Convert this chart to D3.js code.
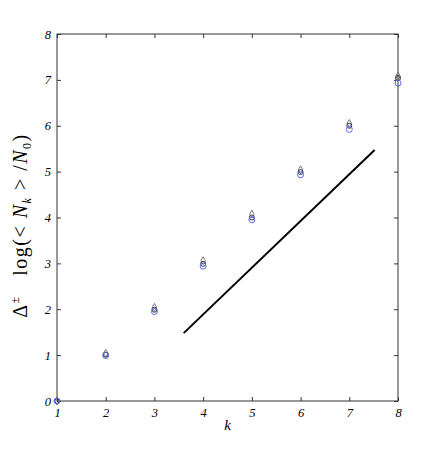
<!DOCTYPE html>
<html>
<head>
<meta charset="utf-8">
<script src="https://cdn.jsdelivr.net/npm/d3@7"></script>
<style>
  body { margin: 0; background: #fff; }
  svg text { font-family: "Liberation Serif", "DejaVu Serif", serif; }
</style>
</head>
<body>
<div id="chart"></div>
<script>
const kValues = [1, 2, 3, 4, 5, 6, 7, 8];
// light blue circles
const circleLight = [0, 0.99, 1.95, 2.94, 3.95, 4.93, 5.92, 6.93];
// dark blue circles
const circleDark = [0, 1.01, 1.99, 2.99, 4.0, 4.99, 6.0, 7.04];
// grey diamonds
const diamondVals = [0, 1.04, 2.04, 3.06, 4.07, 5.04, 6.05, 7.08];
// reference line
const lineX = [3.6, 7.52];
const lineY = [1.48, 5.47];
const xTicks = [1, 2, 3, 4, 5, 6, 7, 8];
const yTicks = [0, 1, 2, 3, 4, 5, 6, 7, 8];

const width = 436, height = 452;
const margin = { top: 34, right: 38, bottom: 51, left: 57 };

const svg = d3.select('#chart').append('svg')
  .attr('width', width).attr('height', height);

const x = d3.scaleLinear().domain([1, 8]).range([margin.left, width - margin.right]);
const y = d3.scaleLinear().domain([0, 8]).range([height - margin.bottom, margin.top]);

const axisColor = '#333';

// frame
svg.append('rect')
  .attr('x', x(1)).attr('y', y(8))
  .attr('width', x(8) - x(1)).attr('height', y(0) - y(8))
  .attr('fill', 'none').attr('stroke', axisColor).attr('stroke-width', 1);

const styleAxis = g => {
  g.select('.domain').remove();
  g.selectAll('.tick line').attr('stroke', axisColor);
  g.selectAll('.tick text')
    .attr('font-size', 12.5).attr('font-style', 'italic').attr('fill', '#000');
};

svg.append('g').attr('transform', `translate(0,${y(0)})`)
  .call(d3.axisBottom(x).tickValues(xTicks).tickSize(-4).tickPadding(7).tickFormat(d3.format('d')))
  .call(styleAxis);
svg.append('g').attr('transform', `translate(0,${y(8)})`)
  .call(d3.axisTop(x).tickValues(xTicks).tickSize(-4).tickFormat(''))
  .call(styleAxis);
svg.append('g').attr('transform', `translate(${x(1)},0)`)
  .call(d3.axisLeft(y).tickValues(yTicks).tickSize(-4).tickPadding(6).tickFormat(d3.format('d')))
  .call(styleAxis);
svg.append('g').attr('transform', `translate(${x(8)},0)`)
  .call(d3.axisRight(y).tickValues(yTicks).tickSize(-4).tickFormat(''))
  .call(styleAxis);

// line
svg.append('line')
  .attr('x1', x(lineX[0])).attr('y1', y(lineY[0]))
  .attr('x2', x(lineX[1])).attr('y2', y(lineY[1]))
  .attr('stroke', '#000').attr('stroke-width', 2);

// markers
const diamond = d3.symbol().type(d3.symbolDiamond).size(18);
svg.append('g').selectAll('path')
  .data(kValues.map((k, i) => ({ k, v: diamondVals[i] })))
  .join('path')
  .attr('d', diamond)
  .attr('transform', d => `translate(${x(d.k)},${y(d.v)})`)
  .attr('fill', 'none').attr('stroke', '#777').attr('stroke-width', 1);

svg.append('g').selectAll('circle')
  .data(kValues.map((k, i) => ({ k, v: circleDark[i] })))
  .join('circle')
  .attr('cx', d => x(d.k)).attr('cy', d => y(d.v)).attr('r', 2.5)
  .attr('fill', 'none').attr('stroke', '#334').attr('stroke-width', 1);

svg.append('g').selectAll('circle')
  .data(kValues.map((k, i) => ({ k, v: circleLight[i] })))
  .join('circle')
  .attr('cx', d => x(d.k)).attr('cy', d => y(d.v)).attr('r', 3)
  .attr('fill', 'none').attr('stroke', '#5a6cf0').attr('stroke-width', 1);

// axis labels
svg.append('text')
  .attr('x', x(4.5)).attr('y', 430)
  .attr('text-anchor', 'middle').attr('font-size', 15).attr('font-style', 'italic')
  .text('k');

const yl = svg.append('text')
  .attr('transform', `translate(27,${y(4) + 8}) rotate(-90)`)
  .attr('text-anchor', 'middle').attr('font-size', 20)
  .attr('letter-spacing', 1.5)
  .attr('xml:space', 'preserve').style('white-space', 'pre');
yl.append('tspan').text('Δ');
yl.append('tspan').attr('font-size', 12).attr('dy', -8).text('±');
yl.append('tspan').attr('dy', 8).text('   log(< ');
yl.append('tspan').attr('font-style', 'italic').text('N');
yl.append('tspan').attr('font-style', 'italic').attr('font-size', 12).attr('dy', 4).text('k');
yl.append('tspan').attr('dy', -4).text(' > /');
yl.append('tspan').attr('font-style', 'italic').text('N');
yl.append('tspan').attr('font-size', 12).attr('dy', 4).text('0');
yl.append('tspan').attr('dy', -4).text(')');
</script>
</body>
</html>
